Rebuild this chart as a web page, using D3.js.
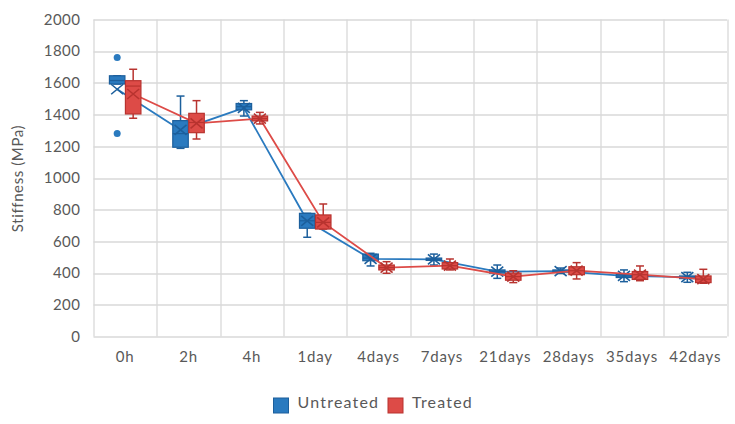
<!DOCTYPE html>
<html>
<head>
<meta charset="utf-8">
<script src="https://cdn.jsdelivr.net/npm/d3@7"></script>
<style>
  body { margin: 0; background: #fff; }
  text { font-family: Lato, "Open Sans", sans-serif; fill: #595959; }
</style>
</head>
<body>
<div id="chart"></div>
<script>
// categories and tick labels
var categories = ["0h", "2h", "4h", "1day", "4days", "7days", "21days", "28days", "35days", "42days"];
var yTicks = [0, 200, 400, 600, 800, 1000, 1200, 1400, 1600, 1800, 2000];

// Untreated: whisker low, q1, median, q3, whisker high, mean
var untreatedLow    = [1593, 1187, 1391, 626, 445, 451, 367, 398, 346, 342];
var untreatedQ1     = [1593, 1194, 1430, 683, 478, 480, 400, 407, 372, 365];
var untreatedMedian = [1615, 1280, 1450, 730, 495, 487, 410, 413, 382, 374];
var untreatedQ3     = [1645, 1362, 1470, 777, 520, 495, 420, 420, 392, 382];
var untreatedHigh   = [1645, 1517, 1488, 777, 525, 520, 451, 432, 420, 405];
var untreatedMean   = [1560, 1303, 1442, 730, 490, 487, 409, 413, 382, 374];
var untreatedOutliers = [[1761, 1280], [], [], [], [], [], [], [], [], []];

// Treated
var treatedLow    = [1377, 1246, 1341, 678, 399, 420, 340, 363, 352, 336];
var treatedQ1     = [1404, 1286, 1360, 678, 420, 426, 355, 390, 360, 340];
var treatedMedian = [1580, 1350, 1375, 720, 435, 447, 378, 415, 390, 362];
var treatedQ3     = [1614, 1408, 1391, 767, 451, 466, 400, 440, 410, 382];
var treatedHigh   = [1686, 1488, 1414, 836, 472, 489, 415, 466, 445, 424];
var treatedMean   = [1530, 1345, 1375, 720, 435, 447, 378, 415, 390, 362];
var treatedOutliers = [[], [], [], [], [], [], [], [], [], []];

var svgWidth = 735;
var svgHeight = 424;
var margin = { top: 19.5, right: 8, bottom: 87.5, left: 93.5 };
var width = svgWidth - margin.left - margin.right;
var height = svgHeight - margin.top - margin.bottom;

var svg = d3.select("#chart")
  .append("svg")
  .attr("width", svgWidth)
  .attr("height", svgHeight);

var chartGroup = svg.append("g")
  .attr("transform", `translate(${margin.left}, ${margin.top})`);

var xScale = d3.scaleBand()
  .domain(categories)
  .range([0, width]);

var yScale = d3.scaleLinear()
  .domain([0, 2000])
  .range([height, 0]);

// gridlines
chartGroup.append("g")
  .selectAll("line")
  .data(yTicks)
  .enter()
  .append("line")
  .attr("x1", 0)
  .attr("x2", width)
  .attr("y1", d => Math.round(yScale(d)) + 0.5)
  .attr("y2", d => Math.round(yScale(d)) + 0.5)
  .attr("stroke", "#d9d9d9")
  .attr("stroke-width", 1.3);

var bounds = categories.map(c => xScale(c)).concat([width]);
chartGroup.append("g")
  .selectAll("line")
  .data(bounds)
  .enter()
  .append("line")
  .attr("x1", d => Math.round(d) + 0.5)
  .attr("x2", d => Math.round(d) + 0.5)
  .attr("y1", 0)
  .attr("y2", height)
  .attr("stroke", "#d9d9d9")
  .attr("stroke-width", 1.3);

// y tick labels
chartGroup.append("g")
  .selectAll("text")
  .data(yTicks)
  .enter()
  .append("text")
  .attr("x", -13)
  .attr("y", d => yScale(d))
  .attr("dy", "0.35em")
  .attr("text-anchor", "end")
  .style("font-size", "15px")
  .style("letter-spacing", "0.5px")
  .text(d => d);

// x tick labels
chartGroup.append("g")
  .selectAll("text")
  .data(categories)
  .enter()
  .append("text")
  .attr("x", d => xScale(d) + xScale.bandwidth() / 2)
  .attr("y", height + 20)
  .attr("dy", "0.35em")
  .attr("text-anchor", "middle")
  .style("font-size", "15px")
  .style("letter-spacing", "0.8px")
  .text(d => d);

// y axis title
chartGroup.append("text")
  .attr("transform", "rotate(-90)")
  .attr("x", 0 - 159)
  .attr("y", 0 - margin.left + 18)
  .attr("dy", "0.35em")
  .attr("text-anchor", "middle")
  .style("font-size", "15px")
  .style("letter-spacing", "0.6px")
  .text("Stiffness (MPa)");

var boxW = 15.5;

function drawSeries(offset, low, q1, med, q3, high, mean, outliers, fill, stroke) {
  var cx = i => xScale(categories[i]) + xScale.bandwidth() / 2 + offset;
  var idx = d3.range(categories.length);

  // mean line
  var line = d3.line()
    .x(i => cx(i))
    .y(i => yScale(mean[i]));
  chartGroup.append("path")
    .datum(idx)
    .attr("d", line)
    .attr("fill", "none")
    .attr("stroke", fill)
    .attr("stroke-width", 1.8);

  var g = chartGroup.append("g")
    .selectAll("g")
    .data(idx)
    .enter()
    .append("g");

  // whiskers
  g.append("line")
    .attr("x1", i => cx(i)).attr("x2", i => cx(i))
    .attr("y1", i => yScale(high[i])).attr("y2", i => yScale(q3[i]))
    .attr("stroke", stroke).attr("stroke-width", 1.5);
  g.append("line")
    .attr("x1", i => cx(i)).attr("x2", i => cx(i))
    .attr("y1", i => yScale(low[i])).attr("y2", i => yScale(q1[i]))
    .attr("stroke", stroke).attr("stroke-width", 1.5);
  g.append("line")
    .attr("x1", i => cx(i) - 4).attr("x2", i => cx(i) + 4)
    .attr("y1", i => yScale(high[i])).attr("y2", i => yScale(high[i]))
    .attr("stroke", stroke).attr("stroke-width", 1.5);
  g.append("line")
    .attr("x1", i => cx(i) - 4).attr("x2", i => cx(i) + 4)
    .attr("y1", i => yScale(low[i])).attr("y2", i => yScale(low[i]))
    .attr("stroke", stroke).attr("stroke-width", 1.5);

  // box
  g.append("rect")
    .attr("x", i => cx(i) - boxW / 2)
    .attr("width", boxW)
    .attr("y", i => yScale(q3[i]))
    .attr("height", i => Math.max(2, yScale(q1[i]) - yScale(q3[i])))
    .attr("fill", fill)
    .attr("stroke", stroke)
    .attr("stroke-width", 1.2);

  // median
  g.append("line")
    .attr("x1", i => cx(i) - boxW / 2).attr("x2", i => cx(i) + boxW / 2)
    .attr("y1", i => yScale(med[i])).attr("y2", i => yScale(med[i]))
    .attr("stroke", stroke).attr("stroke-width", 1.2);

  // mean marker X
  g.append("path")
    .attr("d", i => {
      var x = cx(i), y = yScale(mean[i]);
      return `M${x - 6},${y - 5}L${x + 6},${y + 5}M${x - 6},${y + 5}L${x + 6},${y - 5}`;
    })
    .attr("stroke", stroke)
    .attr("stroke-width", 1.6)
    .attr("fill", "none");

  // outliers
  idx.forEach(function(i) {
    chartGroup.selectAll(null)
      .data(outliers[i])
      .enter()
      .append("circle")
      .attr("cx", cx(i))
      .attr("cy", d => yScale(d))
      .attr("r", 3.5)
      .attr("fill", fill);
  });
}

drawSeries(-8, untreatedLow, untreatedQ1, untreatedMedian, untreatedQ3, untreatedHigh,
  untreatedMean, untreatedOutliers, "#2a7abf", "#1c5f9c");
drawSeries(8, treatedLow, treatedQ1, treatedMedian, treatedQ3, treatedHigh,
  treatedMean, treatedOutliers, "#dd4b47", "#b8332f");

// legend
var legend = svg.append("g")
  .attr("transform", "translate(273.5, 398)");
var legendItems = [
  { name: "Untreated", fill: "#2a7abf", stroke: "#1c5f9c", x: 0 },
  { name: "Treated", fill: "#dd4b47", stroke: "#b8332f", x: 114.5 }
];
var li = legend.selectAll("g")
  .data(legendItems)
  .enter()
  .append("g")
  .attr("transform", d => `translate(${d.x}, 0)`);
li.append("rect")
  .attr("width", 15)
  .attr("height", 15)
  .attr("fill", d => d.fill)
  .attr("stroke", d => d.stroke)
  .attr("stroke-width", 1);
li.append("text")
  .attr("x", 24)
  .attr("y", 4)
  .attr("dy", "0.35em")
  .style("font-size", "16px")
  .style("letter-spacing", "1.2px")
  .text(d => d.name);
</script>
</body>
</html>
